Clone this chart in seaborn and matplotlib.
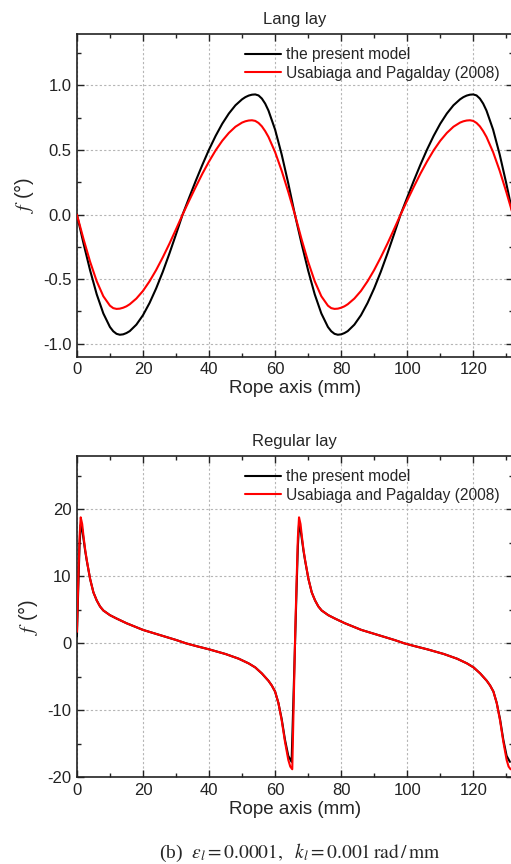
import matplotlib
matplotlib.use("Agg")
import matplotlib.pyplot as plt
from matplotlib.ticker import MultipleLocator, FixedLocator
import pandas as pd
import seaborn as sns

# ---------------- data ----------------
lang_x = [0, 2, 4, 6, 8, 10, 11, 12, 13, 14, 15, 16, 18, 20, 22, 24, 26, 28, 30, 32, 34,
          36, 38, 40, 42, 44, 46, 48, 50, 51, 52, 53, 54, 55, 56, 57, 58, 60, 62, 64, 66,
          68, 70, 72, 74, 76, 77, 78, 79, 80, 81, 82, 84, 86, 88, 90, 92, 94, 96, 98,
          100, 102, 104, 106, 108, 110, 112, 114, 116, 117, 118, 119, 120, 121, 122,
          123, 124, 126, 128, 130, 132]
lang_present = [0, -0.223, -0.432, -0.617, -0.765, -0.870, -0.903, -0.923, -0.930, -0.927,
                -0.917, -0.902, -0.852, -0.779, -0.684, -0.571, -0.443, -0.302, -0.153,
                0.0, 0.132, 0.262, 0.386, 0.503, 0.609, 0.703, 0.782, 0.846, 0.892, 0.909,
                0.921, 0.928, 0.930, 0.922, 0.898, 0.859, 0.805, 0.658, 0.465, 0.241, 0.0,
                -0.223, -0.432, -0.617, -0.765, -0.870, -0.903, -0.923, -0.930, -0.927,
                -0.917, -0.902, -0.852, -0.779, -0.684, -0.571, -0.443, -0.302, -0.153,
                0.0, 0.132, 0.262, 0.386, 0.503, 0.609, 0.703, 0.782, 0.846, 0.892, 0.909,
                0.921, 0.928, 0.930, 0.922, 0.898, 0.859, 0.805, 0.658, 0.465, 0.241, 0.0]
lang_usabiaga = [0, -0.189, -0.365, -0.516, -0.632, -0.705, -0.724, -0.730, -0.728, -0.721,
                 -0.710, -0.694, -0.650, -0.591, -0.516, -0.429, -0.331, -0.226, -0.114,
                 0.0, 0.109, 0.215, 0.317, 0.411, 0.497, 0.571, 0.632, 0.680, 0.712, 0.722,
                 0.728, 0.730, 0.725, 0.709, 0.683, 0.646, 0.601, 0.484, 0.339, 0.175, 0.0,
                 -0.189, -0.365, -0.516, -0.632, -0.705, -0.724, -0.730, -0.728, -0.721,
                 -0.710, -0.694, -0.650, -0.591, -0.516, -0.429, -0.331, -0.226, -0.114,
                 0.0, 0.109, 0.215, 0.317, 0.411, 0.497, 0.571, 0.632, 0.680, 0.712, 0.722,
                 0.728, 0.730, 0.725, 0.709, 0.683, 0.646, 0.601, 0.484, 0.339, 0.175, 0.0]

reg_x_present = [0, 0.4, 0.8, 1.15, 1.6, 2.0, 2.5, 3, 4, 5, 6, 7, 8, 10, 12, 15, 20, 25,
                 30, 33, 36, 40, 45, 49, 52, 54, 56, 58, 59, 60, 61, 62, 63, 64, 65, 65.6,
                 66.1, 66.5, 66.9, 67.25, 67.7, 68.1, 68.6, 69.1, 70.1, 71.1, 72.1, 73.1,
                 74.1, 76.1, 78.1, 81.1, 86.1, 91.1, 96.1, 99.1, 102.1, 106.1, 111.1,
                 115.1, 118.1, 120.1, 122.1, 124.1, 125.1, 126.1, 127.1, 128.1, 129.1,
                 130.1, 131.1]
reg_present = [1.0, 8.0, 14.5, 17.7, 17.0, 15.6, 13.8, 12.3, 9.6, 7.6, 6.4, 5.5, 4.9, 4.2,
               3.7, 3.0, 2.0, 1.25, 0.5, 0.0, -0.4, -0.9, -1.6, -2.3, -3.0, -3.6, -4.5,
               -5.6, -6.3, -7.2, -8.9, -11.3, -14.4, -16.8, -17.7, -7.5,
               1.0, 8.0, 14.5, 17.7, 17.0, 15.6, 13.8, 12.3, 9.6, 7.6, 6.4, 5.5, 4.9, 4.2,
               3.7, 3.0, 2.0, 1.25, 0.5, 0.0, -0.4, -0.9, -1.6, -2.3, -3.0, -3.6, -4.5,
               -5.6, -6.3, -7.2, -8.9, -11.3, -14.4, -16.8, -17.7]
reg_x_usabiaga = [0, 0.4, 0.8, 1.15, 1.6, 2.0, 2.5, 3, 4, 5, 6, 7, 8, 10, 12, 15, 20, 25,
                  30, 33, 36, 40, 45, 49, 52, 54, 56, 58, 59, 60, 61, 62, 63, 64, 64.6,
                  65.2, 65.7,
                  66.1, 66.5, 66.9, 67.25, 67.7, 68.1, 68.6, 69.1, 70.1, 71.1, 72.1, 73.1,
                  74.1, 76.1, 78.1, 81.1, 86.1, 91.1, 96.1, 99.1, 102.1, 106.1, 111.1,
                  115.1, 118.1, 120.1, 122.1, 124.1, 125.1, 126.1, 127.1, 128.1, 129.1,
                  130.1, 130.7, 131.3]
reg_usabiaga = [1.7, 9.0, 15.8, 18.8, 17.8, 16.0, 14.0, 12.4, 9.6, 7.6, 6.4, 5.5, 4.9, 4.2,
                3.7, 3.0, 2.0, 1.25, 0.5, 0.0, -0.4, -0.9, -1.6, -2.3, -3.0, -3.6, -4.5,
                -5.6, -6.3, -7.2, -8.9, -11.5, -14.7, -17.4, -18.4, -18.8, -7.5,
                1.7, 9.0, 15.8, 18.8, 17.8, 16.0, 14.0, 12.4, 9.6, 7.6, 6.4, 5.5, 4.9, 4.2,
                3.7, 3.0, 2.0, 1.25, 0.5, 0.0, -0.4, -0.9, -1.6, -2.3, -3.0, -3.6, -4.5,
                -5.6, -6.3, -7.2, -8.9, -11.5, -14.7, -17.4, -18.4, -18.8]

series_names = ["the present model", "Usabiaga and Pagalday (2008)"]
series_colors = ["#000000", "#ff0000"]
titles = ["Lang lay", "Regular lay"]
x_label = "Rope axis (mm)"
y_label = r"$f$ (°)"
caption = r"(b)  $\varepsilon_l = 0.0001,\ \ k_l = 0.001\,\mathrm{rad\,/\,mm}$"
x_ticks = [0, 20, 40, 60, 80, 100, 120]
lang_yticks = [-1.0, -0.5, 0.0, 0.5, 1.0]
lang_yticklabels = ["-1.0", "-0.5", "0.0", "0.5", "1.0"]
reg_yticks = [-20, -10, 0, 10, 20]
reg_yticklabels = ["-20", "-10", "0", "10", "20"]

# ---------------- style ----------------
sns.set_style("ticks")
plt.rcParams["font.family"] = ["Liberation Sans", "DejaVu Sans"]
plt.rcParams["mathtext.fontset"] = "stix"
plt.rcParams["axes.unicode_minus"] = False

W, H = 511, 864
fig = plt.figure(figsize=(W / 100, H / 100), dpi=100)

x_left, x_right = 76.9, 512.9
boxes = [(33.7, 356.7), (455.7, 777.3)]


def make_ax(top_px, bottom_px):
    return fig.add_axes([x_left / W, 1 - bottom_px / H,
                         (x_right - x_left) / W, (bottom_px - top_px) / H])


ax1 = make_ax(*boxes[0])
ax2 = make_ax(*boxes[1])

palette = dict(zip(series_names, series_colors))

df_lang = pd.concat([
    pd.DataFrame({"x": lang_x, "y": lang_present, "series": series_names[0]}),
    pd.DataFrame({"x": lang_x, "y": lang_usabiaga, "series": series_names[1]}),
])
df_reg = pd.concat([
    pd.DataFrame({"x": reg_x_present, "y": reg_present, "series": series_names[0]}),
    pd.DataFrame({"x": reg_x_usabiaga, "y": reg_usabiaga, "series": series_names[1]}),
])

for ax, box, df, yticks, ylabels, ylim, yminor, title, leg_top in [
    (ax1, boxes[0], df_lang, lang_yticks, lang_yticklabels, (-1.1, 1.4), 0.25, titles[0], 47),
    (ax2, boxes[1], df_reg, reg_yticks, reg_yticklabels, (-20, 28), 5, titles[1], 469),
]:
    sns.lineplot(data=df, x="x", y="y", hue="series", palette=palette,
                 hue_order=series_names, sort=False, estimator=None,
                 linewidth=1.5, ax=ax, legend=False, zorder=3)
    ax.set_xlim(0, 132)
    ax.set_ylim(*ylim)
    ax.xaxis.set_major_locator(FixedLocator(x_ticks))
    ax.xaxis.set_minor_locator(MultipleLocator(10))
    ax.yaxis.set_major_locator(FixedLocator(yticks))
    ax.set_yticklabels(ylabels)
    ax.yaxis.set_minor_locator(MultipleLocator(yminor))
    ax.tick_params(which="both", direction="in", top=True, right=True,
                   labelsize=12, colors="#222222", width=1.0)
    ax.tick_params(which="major", length=5, pad=4)
    ax.tick_params(which="minor", length=3)
    ax.grid(True, which="major", color="#b5b5b5", linestyle=(0, (2, 2)),
            linewidth=0.8, zorder=0)
    for sp in ax.spines.values():
        sp.set_color("#222222")
        sp.set_linewidth(1.2)
    ax.set_xlabel(x_label, fontsize=13.5, labelpad=2)
    ax.set_ylabel(y_label, fontsize=14.5, labelpad=5)
    ax.set_title(title, fontsize=12, pad=7)
    handles = [plt.Line2D([], [], color=c, lw=1.5) for c in series_colors]
    leg_y = (box[1] - leg_top) / (box[1] - box[0])
    leg_x = (245 - x_left) / (x_right - x_left)
    ax.legend(handles, series_names, loc="upper left", bbox_to_anchor=(leg_x, leg_y),
              frameon=False, fontsize=11.2, handlelength=2.3, handletextpad=0.35,
              borderpad=0, borderaxespad=0, labelspacing=0.25)

fig.text(300 / W, 1 - 853 / H, caption, ha="center", va="center", fontsize=14,
         family=["Liberation Serif", "DejaVu Serif"])

fig.savefig("out.png", dpi=100)
